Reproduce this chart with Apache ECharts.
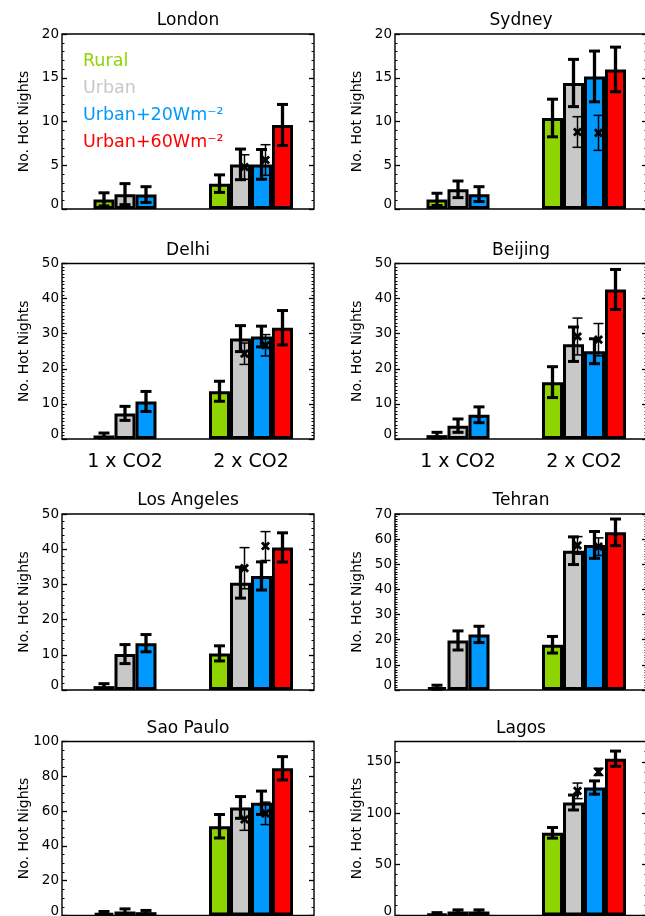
<!DOCTYPE html>
<html><head><meta charset="utf-8">
<script src="https://cdn.jsdelivr.net/npm/echarts@6/dist/echarts.min.js"></script>
<style>html,body{margin:0;padding:0;background:#fff}#c{width:645px;height:916px}</style>
</head><body><div id="c"></div>
<script>
// ---------------- data ----------------
const cities = ['London','Sydney','Delhi','Beijing','Los Angeles','Tehran','Sao Paulo','Lagos'];
const categories = ['1 x CO2','2 x CO2'];
const seriesNames = ['Rural','Urban','Urban+20Wm\u207B\u00B2','Urban+60Wm\u207B\u00B2'];
const yAxisName = 'No. Hot Nights';
// values per city: [1 x CO2, 2 x CO2]
const rural      = [[1.1,2.9],[1.1,10.4],[1.0,13.6],[1.1,16.2],[1.1,10.4],[1.1,18.0],[1.3,51.3],[1.3,80.8]];
const ruralErr   = [[0.75,1.0],[0.7,2.15],[0.7,2.85],[0.8,4.4],[0.7,2.15],[0.8,3.3],[1.0,6.75],[1.5,5.2]];
const urban      = [[1.7,5.1],[2.25,14.4],[7.3,28.6],[3.8,27.0],[10.2,30.5],[19.7,55.4],[2.3,62.1],[3.9,110.4]];
const urbanErr   = [[1.2,1.75],[0.95,2.7],[2.0,3.7],[1.9,4.9],[2.7,4.4],[3.8,5.5],[1.5,6.25],[1.6,7.3]];
const urban20    = [[1.65,5.1],[1.7,15.15],[10.7,29.2],[6.9,25.0],[13.3,32.4],[22.1,57.7],[1.9,64.8],[3.9,125.0]];
const urban20Err = [[0.9,1.7],[0.85,2.9],[2.85,2.95],[2.25,3.55],[2.45,4.0],[3.25,5.35],[1.0,6.7],[1.6,6.5]];
// 2 x CO2 only
const urban60    = [9.6,15.95,31.7,42.6,40.5,62.7,84.6,153.2];
const urban60Err = [2.35,2.55,4.9,5.7,4.15,5.3,6.7,7.45];
// cross markers (2 x CO2, urban and urban+20)
const crossUrban    = [4.8,8.8,24.3,29.2,34.6,57.5,55.2,121.8];
const crossUrbanErr = [1.4,1.75,3.05,5.25,5.85,3.5,6.25,7.6];
const cross20       = [5.6,8.7,26.7,28.3,40.9,57.0,58.7,140.3];
const cross20Err    = [1.75,2.0,3.05,4.6,4.1,3.5,6.45,3.5];
// axes
const yMax = [20,20,50,50,50,70,100,170];
const yTickLabels = [[0,5,10,15,20],[0,5,10,15,20],[0,10,20,30,40,50],[0,10,20,30,40,50],
  [0,10,20,30,40,50],[0,10,20,30,40,50,60,70],[0,20,40,60,80,100],[0,50,100,150]];
const yMinorStep = [1,1,1,1,2,1,5,10];

// ---------------- style / layout ----------------
const FONT = 'DejaVu Sans';
const COLORS = ['#8fd400','#c8c8c8','#0099ff','#ff0000'];
const COL_LEFT = [62, 395];
const PLOT_W = 252;
const ROW_TOP = [34, 263.5, 514, 741.5];
const ROW_H = [175, 175.5, 176, 174];
const BAR_W = 21;
const CROSS_DX = 4;

function thickErr(nBars) {
  return function (params, api) {
    const cat = api.value(0), m = api.value(1), e = api.value(2), slot = api.value(3);
    const hi = api.coord([cat, m + e]), lo = api.coord([cat, m - e]);
    const x = hi[0] + (slot - (nBars - 1) / 2) * BAR_W;
    const cw = 5.5;
    const st = {stroke:'#000', lineWidth:3.3, lineCap:'butt'};
    const sc = {stroke:'#000', lineWidth:3, lineCap:'butt'};
    return {type:'group', children:[
      {type:'line', shape:{x1:x, y1:hi[1], x2:x, y2:lo[1]}, style:st},
      {type:'line', shape:{x1:x-cw, y1:hi[1], x2:x+cw, y2:hi[1]}, style:sc},
      {type:'line', shape:{x1:x-cw, y1:lo[1], x2:x+cw, y2:lo[1]}, style:sc}
    ]};
  };
}
function crossErr(nBars) {
  return function (params, api) {
    const cat = api.value(0), m = api.value(1), e = api.value(2), slot = api.value(3);
    const hi = api.coord([cat, m + e]), lo = api.coord([cat, m - e]), mid = api.coord([cat, m]);
    const x = hi[0] + (slot - (nBars - 1) / 2) * BAR_W + CROSS_DX;
    const cw = 5, s = 3.6;
    const st = {stroke:'#000', lineWidth:1.5, lineCap:'butt'};
    const sx = {stroke:'#000', lineWidth:2.8, lineCap:'butt'};
    return {type:'group', children:[
      {type:'line', shape:{x1:x, y1:hi[1], x2:x, y2:lo[1]}, style:st},
      {type:'line', shape:{x1:x-cw, y1:hi[1], x2:x+cw, y2:hi[1]}, style:st},
      {type:'line', shape:{x1:x-cw, y1:lo[1], x2:x+cw, y2:lo[1]}, style:st},
      {type:'line', shape:{x1:x-s, y1:mid[1]-s, x2:x+s, y2:mid[1]+s}, style:sx},
      {type:'line', shape:{x1:x-s, y1:mid[1]+s, x2:x+s, y2:mid[1]-s}, style:sx}
    ]};
  };
}

const option = {
  animation:false, backgroundColor:'#fff',
  textStyle:{fontFamily:FONT},
  title:[], grid:[], xAxis:[], yAxis:[], series:[],
  legend:{
    orient:'vertical', left:78, top:47.5, padding:0, itemGap:0, itemWidth:0, itemHeight:0,
    icon:'rect', selectedMode:false, itemStyle:{opacity:0, borderWidth:0},
    textStyle:{fontSize:17.5, fontFamily:FONT, lineHeight:27},
    data: seriesNames.map((n,i)=>({name:n, textStyle:{color:COLORS[i]}}))
  }
};

cities.forEach((city, c) => {
  const col = c % 2, row = Math.floor(c / 2);
  const left = COL_LEFT[col], top = ROW_TOP[row], h = ROW_H[row];
  option.grid.push({left:left, top:top, width:PLOT_W, height:h, show:true, borderColor:'#000',
    borderWidth:1.4, backgroundColor:'transparent', containLabel:false, outerBoundsMode:'none'});
  option.title.push({text:city, left:left + PLOT_W/2, top:top - 13.3, textAlign:'center',
    textVerticalAlign:'middle', padding:0,
    textStyle:{fontSize:17, fontWeight:'normal', color:'#000', fontFamily:FONT}});
  const xa = option.xAxis.length;
  option.xAxis.push({gridIndex:c, type:'category', data:categories, position:'bottom',
    axisLine:{show:false}, axisTick:{show:false}, splitLine:{show:false},
    axisLabel:{show: row === 1, color:'#000', fontSize:19, fontFamily:FONT, margin:14}});
  option.xAxis.push({gridIndex:c, type:'category', data:categories, position:'bottom', show:false});
  const ya = option.yAxis.length;
  const minors = [];
  for (let v = 0; v <= yMax[c] + 1e-9; v += yMinorStep[c]) minors.push(+v.toFixed(4));
  const base = () => ({gridIndex:c, type:'value', min:0, max:yMax[c], axisLine:{show:false}, splitLine:{show:false}});
  option.yAxis.push(Object.assign(base(), {
    position:'left', name:yAxisName, nameLocation:'middle', nameGap:31, nameMoveOverlap:false,
    nameTextStyle:{fontSize:14, color:'#000', fontFamily:FONT},
    axisTick:{show:true, inside:true, length:5, customValues:yTickLabels[c], lineStyle:{color:'#000', width:1.3}},
    axisLabel:{show:true, customValues:yTickLabels[c], margin:3, color:'#000', fontSize:13.5, fontFamily:FONT,
      formatter:(v)=> v === 0 ? '{z|0}' : String(v),
      rich:{z:{fontSize:13.5, fontFamily:FONT, color:'#000', padding:[0,0,9,0]}}}
  }));
  option.yAxis.push(Object.assign(base(), {position:'left', axisLabel:{show:false},
    axisTick:{show:true, inside:true, length:2.5, customValues:minors, lineStyle:{color:'#000', width:1}}}));
  option.yAxis.push(Object.assign(base(), {position:'right', axisLabel:{show:false},
    axisTick:{show:true, inside:true, length:5, customValues:yTickLabels[c], lineStyle:{color:'#000', width:1.3}}}));
  option.yAxis.push(Object.assign(base(), {position:'right', axisLabel:{show:false},
    axisTick:{show:true, inside:true, length:2.5, customValues:minors, lineStyle:{color:'#000', width:1}}}));

  const vals = [rural, urban, urban20];
  const barStyle = (k) => ({color:COLORS[k], borderColor:'#000', borderWidth:3});
  for (let k = 0; k < 3; k++) {
    option.series.push({type:'bar', name:seriesNames[k], xAxisIndex:xa, yAxisIndex:ya, silent:true,
      data:[vals[k][c][0], null], barWidth:BAR_W, barGap:'0%', itemStyle:barStyle(k)});
  }
  for (let k = 0; k < 4; k++) {
    const v = k < 3 ? vals[k][c][1] : urban60[c];
    option.series.push({type:'bar', name:seriesNames[k], xAxisIndex:xa+1, yAxisIndex:ya, silent:true,
      data:[null, v], barWidth:BAR_W, barGap:'0%', itemStyle:barStyle(k)});
  }
  option.series.push({type:'custom', xAxisIndex:xa, yAxisIndex:ya, silent:true, z:3,
    renderItem:thickErr(3), encode:{x:0, y:1},
    data:[[0, rural[c][0], ruralErr[c][0], 0],[0, urban[c][0], urbanErr[c][0], 1],[0, urban20[c][0], urban20Err[c][0], 2]]});
  option.series.push({type:'custom', xAxisIndex:xa+1, yAxisIndex:ya, silent:true, z:3,
    renderItem:thickErr(4), encode:{x:0, y:1},
    data:[[1, rural[c][1], ruralErr[c][1], 0],[1, urban[c][1], urbanErr[c][1], 1],
          [1, urban20[c][1], urban20Err[c][1], 2],[1, urban60[c], urban60Err[c], 3]]});
  option.series.push({type:'custom', xAxisIndex:xa+1, yAxisIndex:ya, silent:true, z:4,
    renderItem:crossErr(4), encode:{x:0, y:1},
    data:[[1, crossUrban[c], crossUrbanErr[c], 1],[1, cross20[c], cross20Err[c], 2]]});
});

const chart = echarts.init(document.getElementById('c'), null, {renderer:'canvas', width:645, height:916});
chart.setOption(option);
</script>
</body></html>
